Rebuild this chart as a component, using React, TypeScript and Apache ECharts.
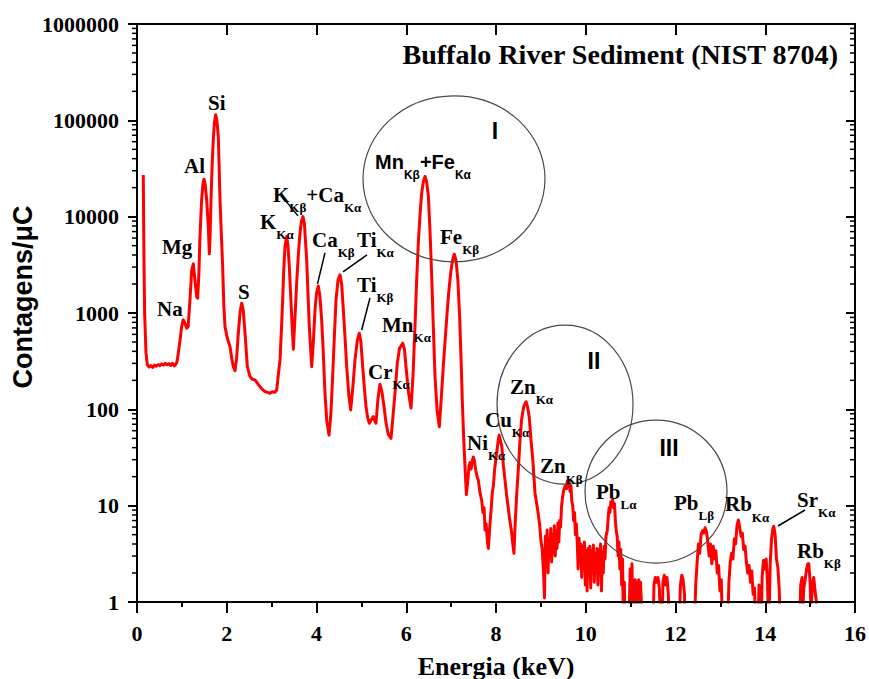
import React, { useEffect, useRef } from 'react';
import * as echarts from 'echarts';

// XRF spectrum of Buffalo River Sediment, energy in keV vs counts per µC.
// Light elements (Na .. S) and the start of the K region
const energyLight = [0.14, 0.155, 0.17, 0.2, 0.23, 0.27, 0.31, 0.35, 0.39, 0.43, 0.47, 0.51, 0.55, 0.59, 0.63, 0.67, 0.71, 0.75, 0.79, 0.83, 0.86, 0.89, 0.92, 0.96, 0.995, 1.03, 1.07, 1.11, 1.14, 1.18, 1.22, 1.255, 1.29, 1.33, 1.352, 1.38, 1.4, 1.44, 1.47, 1.493, 1.52, 1.553, 1.589, 1.612, 1.63, 1.649, 1.675, 1.7, 1.725, 1.753, 1.78, 1.812, 1.85, 1.88, 1.909, 1.935, 1.961, 2.013, 2.072, 2.11, 2.146, 2.184, 2.22, 2.258, 2.3, 2.333, 2.37, 2.407, 2.459, 2.518, 2.57, 2.63, 2.69, 2.741, 2.8, 2.852, 2.91, 2.964, 3.02, 3.07, 3.113];
const countsLight = [27000, 3600, 1000, 390, 290, 275, 285, 272, 288, 280, 292, 284, 296, 288, 300, 290, 298, 286, 300, 282, 292, 310, 383, 526, 722, 848, 778, 695, 722, 1368, 2805, 3235, 2207, 1480, 1425, 2600, 5740, 14900, 22000, 24500, 21500, 14900, 7900, 4110, 6500, 14900, 35000, 62700, 95000, 114000, 100000, 67900, 14900, 6500, 3030, 1200, 722, 547, 448, 340, 277, 252, 340, 617, 1050, 1265, 1050, 617, 277, 219, 205, 202, 185, 172, 160, 153, 150, 147, 152, 150, 158];

// K, Ca, Ti, Cr, Mn and Fe lines
const energyMid = [3.15, 3.187, 3.22, 3.246, 3.27, 3.298, 3.336, 3.365, 3.394, 3.42, 3.447, 3.484, 3.52, 3.558, 3.595, 3.632, 3.665, 3.7, 3.73, 3.781, 3.81, 3.84, 3.893, 3.93, 3.967, 4.0, 4.04, 4.075, 4.115, 4.15, 4.189, 4.23, 4.279, 4.32, 4.36, 4.4, 4.435, 4.48, 4.524, 4.56, 4.598, 4.635, 4.673, 4.72, 4.762, 4.81, 4.858, 4.91, 4.954, 4.99, 5.029, 5.065, 5.103, 5.14, 5.177, 5.22, 5.266, 5.3, 5.326, 5.37, 5.415, 5.46, 5.504, 5.55, 5.6, 5.66, 5.7, 5.749, 5.8, 5.85, 5.921, 5.96, 5.994, 6.05, 6.106, 6.15, 6.195, 6.23, 6.269, 6.31, 6.344, 6.38, 6.418, 6.455, 6.493, 6.53, 6.567, 6.6, 6.641, 6.69, 6.737, 6.78, 6.83, 6.87, 6.91, 6.95, 6.99, 7.03, 7.07, 7.11, 7.15, 7.19, 7.22, 7.25, 7.28, 7.31];
const countsMid = [230, 326, 700, 1368, 2800, 4900, 6210, 5000, 3030, 1700, 918, 421, 900, 2040, 4000, 6740, 9000, 10000, 8500, 3560, 1600, 722, 277, 500, 1077, 1600, 1910, 1500, 848, 400, 147, 75, 54, 90, 219, 600, 1368, 2200, 2488, 2000, 1077, 560, 277, 140, 98.6, 170, 326, 520, 617, 500, 277, 170, 107, 82, 71.7, 78, 84, 76, 71.7, 130, 182, 150, 107, 72, 55, 50, 80, 147, 300, 430, 486, 420, 277, 150, 103, 220, 722, 2100, 5310, 11000, 17540, 23000, 26100, 23000, 16180, 7000, 2390, 800, 219, 95, 66, 130, 300, 550, 1000, 1700, 2600, 3500, 4080, 3500, 2200, 900, 350, 120, 50, 25];

// Ni, Cu and Zn Kα
const energyTrace = [7.34, 7.37, 7.4, 7.42, 7.445, 7.47, 7.495, 7.52, 7.55, 7.58, 7.605, 7.64, 7.68, 7.71, 7.735, 7.755, 7.78, 7.81, 7.83, 7.86, 7.89, 7.92, 7.94, 7.97, 8.015, 8.045, 8.07, 8.1, 8.13, 8.165, 8.2, 8.235, 8.27, 8.3, 8.35, 8.375, 8.4, 8.43, 8.465, 8.5, 8.535, 8.57, 8.62, 8.67, 8.705, 8.74, 8.78, 8.82, 8.845, 8.87, 8.9, 8.94, 8.97, 9.0, 9.03, 9.06];
const countsTrace = [13, 18, 26, 28, 24, 29, 32, 29, 23, 20, 18.5, 14, 11.4, 8.5, 9.5, 5.6, 6.5, 4.2, 3.6, 6, 9, 14, 15.8, 24, 35, 46, 54, 47, 41, 26, 18.5, 13, 9.7, 7.5, 5.2, 4, 3.2, 7, 14, 25, 48, 78, 108, 120, 105, 84, 48, 30, 20, 13.4, 11, 8.3, 6.5, 4.4, 3.5, 2];

// Noisy stretch with Zn Kβ and Pb Lα
const energyNoise = [9.08, 9.1, 9.12, 9.14, 9.16, 9.18, 9.2, 9.22, 9.24, 9.26, 9.28, 9.3, 9.32, 9.34, 9.36, 9.38, 9.4, 9.42, 9.44, 9.46, 9.48, 9.51, 9.54, 9.57, 9.59, 9.61, 9.63, 9.65, 9.67, 9.69, 9.71, 9.73, 9.75, 9.77, 9.79, 9.81, 9.83, 9.85, 9.87, 9.89, 9.91, 9.93, 9.95, 9.97, 9.99, 10.01, 10.03, 10.05, 10.07, 10.09, 10.11, 10.13, 10.15, 10.17, 10.19, 10.21, 10.23, 10.25, 10.27, 10.29, 10.31, 10.33, 10.35, 10.37, 10.39, 10.41, 10.43, 10.45, 10.48, 10.5, 10.52, 10.54, 10.56, 10.58, 10.6, 10.62, 10.64, 10.66, 10.68, 10.7, 10.72, 10.74, 10.76, 10.78, 10.8, 10.82, 10.84];
const countsNoise = [1.1, 4.8, 2.4, 5.6, 2.0, 4.4, 3.0, 5.8, 2.6, 5.0, 3.2, 6.2, 3.0, 5.4, 3.6, 6.6, 4.2, 7.0, 6.0, 9.7, 12, 14.5, 16, 15, 18, 17.5, 18, 14, 16, 11, 10, 7, 8.5, 5, 6.5, 4.2, 2.2, 4.6, 2.6, 4.0, 1.8, 3.8, 2.4, 4.2, 1.5, 3.4, 1.3, 3.6, 2.0, 3.8, 1.4, 3.4, 2.2, 3.9, 1.6, 3.2, 2.0, 3.6, 1.5, 3.5, 2.2, 4.0, 1.3, 3.3, 2.0, 3.8, 2.8, 4.8, 5.5, 7.5, 9.5, 8.5, 11, 10, 11.5, 9.5, 10.5, 7, 5.5, 4.8, 3.0, 4.2, 2.2, 3.5, 1.5, 2.8, 0.5];

// High-energy tail: Pb Lβ, Rb and Sr (values under 1 fall below the axis)
const energyTail = [10.86, 10.88, 10.96, 10.99, 11.01, 11.03, 11.05, 11.08, 11.1, 11.12, 11.14, 11.16, 11.18, 11.2, 11.22, 11.24, 11.26, 11.5, 11.52, 11.55, 11.58, 11.61, 11.64, 11.67, 11.7, 11.72, 11.75, 11.78, 11.81, 11.84, 11.87, 12.08, 12.11, 12.14, 12.17, 12.2, 12.22, 12.42, 12.45, 12.48, 12.51, 12.54, 12.57, 12.6, 12.63, 12.66, 12.69, 12.72, 12.75, 12.78, 12.81, 12.84, 12.87, 12.9, 12.93, 12.96, 12.99, 13.02, 13.05, 13.16, 13.19, 13.22, 13.25, 13.28, 13.31, 13.34, 13.37, 13.4, 13.43, 13.46, 13.49, 13.52, 13.55, 13.58, 13.61, 13.64, 13.67, 13.7, 13.73, 13.76, 13.79, 13.84, 13.86, 13.88, 13.91, 13.93, 13.96, 13.99, 14.02, 14.05, 14.08, 14.11, 14.14, 14.17, 14.19, 14.22, 14.25, 14.28, 14.31, 14.34, 14.76, 14.79, 14.82, 14.84, 14.86, 14.89, 14.92, 14.95, 14.97, 15.0, 15.02, 15.05, 15.08, 15.11, 15.14, 15.17];
const countsTail = [1.6, 0.5, 0.5, 2.2, 1.0, 2.5, 0.5, 0.5, 1.7, 1.0, 1.6, 0.8, 1.7, 1.1, 1.6, 1.0, 0.5, 0.5, 1.5, 1.8, 1.6, 1.8, 1.4, 0.5, 0.5, 1.6, 1.9, 1.5, 1.8, 1.2, 0.5, 0.5, 1.5, 1.9, 1.7, 1.2, 0.5, 0.5, 1.5, 2.5, 4.0, 3.2, 5.0, 5.5, 5.2, 5.9, 5.4, 4.2, 3.0, 4.0, 2.5, 3.8, 2.8, 3.4, 2.0, 2.4, 1.3, 1.7, 0.5, 0.5, 1.6, 2.6, 3.2, 2.8, 4.5, 4.0, 6.2, 7.1, 6.0, 4.8, 5.2, 3.5, 3.8, 2.6, 2.0, 2.4, 1.6, 2.1, 1.2, 1.4, 0.5, 0.5, 1.5, 0.5, 0.5, 1.8, 2.7, 2.2, 2.8, 1.6, 0.5, 2.5, 4.5, 5.8, 6.1, 5.0, 2.8, 2.3, 1.4, 0.5, 0.5, 1.5, 1.8, 0.9, 1.4, 1.7, 2.2, 2.5, 2.5, 1.6, 0.8, 1.5, 1.8, 1.3, 1.0, 0.5];

// Axis ticks
const energyTicks = { min: 0, max: 16, step: 2 };
const energyTickLabels = ['0', '2', '4', '6', '8', '10', '12', '14', '16'];
const countDecades = [1, 10, 100, 1000, 10000, 100000, 1000000];
const countTickLabels = ['1', '10', '100', '1000', '10000', '100000', '1000000'];
const decadeSubdivisions = [2, 3, 4, 5, 6, 7, 8, 9];

// Peak labels: rich text anchored at [keV, counts] (left edge, vertical middle)
const peakLabels: { text: string; at: [number, number] }[] = [
  { text: '{m|Na}', at: [0.446, 1103] },
  { text: '{m|Mg}', at: [0.557, 4855] },
  { text: '{m|Al}', at: [1.047, 33700] },
  { text: '{m|Si}', at: [1.582, 150200] },
  { text: '{m|S}', at: [2.251, 1656] },
  { text: '{m|K}{s|Kα}', at: [2.741, 8830] },
  { text: '{m|K}{s|Kβ}{m|+Ca}{s|Kα}', at: [3.031, 16840] },
  { text: '{m|Ca}{s|Kβ}', at: [3.9, 5745] },
  { text: '{m|Ti}{s|Kα}', at: [4.903, 5745] },
  { text: '{m|Ti}{s|Kβ}', at: [4.903, 1958] },
  { text: '{m|Mn}{s|Kα}', at: [5.46, 752] },
  { text: '{m|Cr}{s|Kα}', at: [5.148, 244.6] },
  { text: '{a|Mn}{as|Kβ}{a|+Fe}{as|Kα}', at: [5.304, 37070] },
  { text: '{m|Fe}{s|Kβ}', at: [6.752, 6170] },
  { text: '{m|Ni}{s|Kα}', at: [7.354, 44.8] },
  { text: '{m|Cu}{s|Kα}', at: [7.755, 77.6] },
  { text: '{m|Zn}{s|Kα}', at: [8.312, 170.9] },
  { text: '{m|Zn}{s|Kβ}', at: [8.981, 25.8] },
  { text: '{m|Pb}{s|Lα}', at: [10.228, 13.87] },
  { text: '{m|Pb}{s|Lβ}', at: [11.967, 10.67] },
  { text: '{m|Rb}{s|Kα}', at: [13.103, 10.4] },
  { text: '{m|Sr}{s|Kα}', at: [14.708, 11.46] },
  { text: '{m|Rb}{s|Kβ}', at: [14.708, 3.386] },
];

// Leader lines from labels to their peaks
const leaderLines: [number, number][][] = [
  [[3.276, 15300], [3.588, 10190]],
  [[4.189, 4207], [4.022, 2005]],
  [[5.125, 4011], [4.591, 2672]],
  [[5.192, 1435], [5.007, 667]],
  [[14.886, 9.02], [14.284, 6.15]],
];

// Highlighted regions: centre in [keV, counts], radii in px
const regions = [
  { name: 'I', center: [7.064, 24700], rx: 91, ry: 83, labelAt: [7.978, 77800] },
  { name: 'II', center: [9.538, 112], rx: 68, ry: 79.5, labelAt: [10.184, 318] },
  { name: 'III', center: [11.566, 14.0], rx: 71, ry: 71.5, labelAt: [11.855, 39.7] },
];

const SERIF = 'Liberation Serif';
const SANS = 'Liberation Sans';
const serifFont = (size: number) => `bold ${size}px ${SERIF}`;
const sansFont = (size: number) => `bold ${size}px ${SANS}`;

const zip = (e: number[], c: number[]) => e.map((x, i) => [x, c[i]]);

const spectrum = [
  ...zip(energyLight, countsLight),
  ...zip(energyMid, countsMid),
  ...zip(energyTrace, countsTrace),
  ...zip(energyNoise, countsNoise),
  ...zip(energyTail, countsTail),
];

const labelRich = {
  m: { font: serifFont(21), fill: '#000' },
  s: { font: serifFont(13), fill: '#000', padding: [26, 0, 0, 0] },
  a: { font: sansFont(20), fill: '#000' },
  as: { font: sansFont(12), fill: '#000', padding: [26, 0, 0, 0] },
};

export default function App() {
  const ref = useRef<HTMLDivElement>(null);

  useEffect(() => {
    const el = ref.current;
    if (!el) return;
    const chart = echarts.init(el, null, { renderer: 'svg' });

    const axisLine = { show: true, onZero: false, lineStyle: { color: '#000', width: 2 } };
    const tickStyle = { color: '#000', width: 2 };

    chart.setOption({
      animation: false,
      backgroundColor: '#fff',
      grid: { left: 137, right: 14, top: 24, bottom: 77, outerBoundsMode: 'none' },
      xAxis: [
        {
          type: 'value',
          position: 'bottom',
          min: energyTicks.min,
          max: energyTicks.max,
          interval: energyTicks.step,
          z: 5,
          axisLine,
          axisTick: { show: true, inside: false, length: 11, lineStyle: tickStyle },
          minorTick: { show: true, splitNumber: 2, length: 5, lineStyle: tickStyle },
          splitLine: { show: false },
          minorSplitLine: { show: false },
          axisLabel: { show: false },
        },
        {
          type: 'value',
          position: 'top',
          min: energyTicks.min,
          max: energyTicks.max,
          interval: energyTicks.step,
          z: 5,
          axisLine,
          axisTick: { show: true, inside: true, length: 11, lineStyle: tickStyle },
          axisLabel: { show: false },
          splitLine: { show: false },
        },
      ],
      yAxis: [
        {
          type: 'log',
          logBase: 10,
          position: 'left',
          min: 1,
          max: 1000000,
          splitNumber: 6,
          z: 5,
          axisLine,
          axisTick: { show: true, inside: false, length: 9, lineStyle: tickStyle },
          splitLine: { show: false },
          axisLabel: { show: false },
        },
        {
          type: 'log',
          logBase: 10,
          position: 'right',
          min: 1,
          max: 1000000,
          splitNumber: 6,
          z: 5,
          axisLine,
          axisTick: { show: true, inside: true, length: 9, lineStyle: tickStyle },
          splitLine: { show: false },
          axisLabel: { show: false },
        },
      ],
      series: [
        {
          name: 'Buffalo River Sediment',
          type: 'line',
          xAxisIndex: 0,
          yAxisIndex: 0,
          data: spectrum,
          showSymbol: false,
          symbol: 'none',
          clip: true,
          lineStyle: { color: '#ff0000', width: 3, join: 'round' },
          silent: true,
          z: 2,
        },
        ...leaderLines.map((seg, i) => ({
          name: 'leader' + i,
          type: 'line',
          xAxisIndex: 0,
          yAxisIndex: 0,
          data: seg,
          showSymbol: false,
          symbol: 'none',
          lineStyle: { color: '#000', width: 1.5 },
          silent: true,
          z: 3,
        })),
      ],
    });

    const toPx = (p: number[]) =>
      chart.convertToPixel({ xAxisIndex: 0, yAxisIndex: 0 }, p) as number[];

    const elements: any[] = [];
    const text = (x: number, y: number, str: string, font: string, align: string, extra: any = {}) => ({
      type: 'text',
      silent: true,
      x,
      y,
      z: 9,
      ...extra,
      style: { text: str, font, fill: '#000', align, verticalAlign: 'middle' },
    });

    // Tick labels, placed at the axis scale positions
    const [xLeft, yBottom] = toPx([energyTicks.min, 1]);
    const [xRight] = toPx([energyTicks.max, 1]);
    energyTickLabels.forEach((lab) => {
      const [x] = toPx([Number(lab), 1]);
      elements.push(text(x, yBottom + 31, lab, serifFont(22), 'center'));
    });
    countDecades.forEach((d, i) => {
      const [, y] = toPx([energyTicks.min, d]);
      elements.push(text(xLeft - 18, y, countTickLabels[i], serifFont(22), 'right'));
    });

    // Logarithmic minor ticks: outward on the left axis, inward on the right axis
    countDecades.slice(0, -1).forEach((d) => {
      decadeSubdivisions.forEach((m) => {
        const [, y] = toPx([energyTicks.min, d * m]);
        elements.push({
          type: 'line',
          silent: true,
          shape: { x1: xLeft - 5, y1: y, x2: xLeft, y2: y },
          style: { stroke: '#000', lineWidth: 1.5 },
          z: 10,
        });
        elements.push({
          type: 'line',
          silent: true,
          shape: { x1: xRight - 5, y1: y, x2: xRight, y2: y },
          style: { stroke: '#000', lineWidth: 1.5 },
          z: 10,
        });
      });
    });

    // Region outlines and their numerals
    regions.forEach((r) => {
      const [cx, cy] = toPx(r.center);
      elements.push({
        type: 'ellipse',
        silent: true,
        shape: { cx, cy, rx: r.rx, ry: r.ry },
        style: { fill: 'none', stroke: '#4a4a4a', lineWidth: 1.2 },
        z: 8,
      });
      const [lx, ly] = toPx(r.labelAt);
      elements.push(text(lx, ly, r.name, sansFont(23), 'center'));
    });

    // Peak labels with subscripted line names
    peakLabels.forEach((lab) => {
      const [x, y] = toPx(lab.at);
      elements.push({
        type: 'text',
        silent: true,
        x,
        y,
        style: {
          text: lab.text,
          rich: labelRich,
          font: serifFont(21),
          fill: '#000',
          align: 'left',
          verticalAlign: 'middle',
        },
        z: 9,
      });
    });

    // Sample name
    elements.push(
      text(838, 55, 'Buffalo River Sediment (NIST 8704)', serifFont(27), 'right', { scaleX: 1.04 })
    );

    // Axis titles
    elements.push(text((xLeft + xRight) / 2, yBottom + 64, 'Energia (keV)', serifFont(26), 'center'));
    elements.push(text(23, 297, 'Contagens/μC', sansFont(27), 'center', { rotation: Math.PI / 2 }));

    chart.setOption({ graphic: { elements } });

    return () => {
      chart.dispose();
    };
  }, []);

  return (
    <div
      ref={ref}
      style={{ position: 'fixed', left: 0, top: 0, width: 869, height: 679, background: '#fff' }}
    />
  );
}
